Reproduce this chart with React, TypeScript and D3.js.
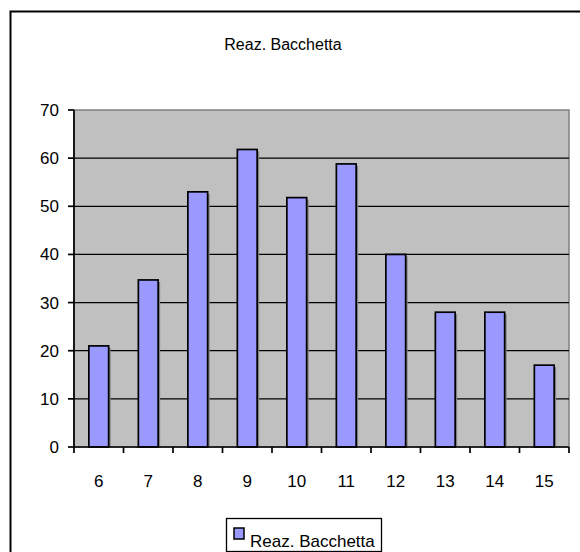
import React from "react";
import * as d3 from "d3";

const categories = ["6", "7", "8", "9", "10", "11", "12", "13", "14", "15"];
const values = [21, 34.7, 53, 61.8, 51.8, 58.8, 40, 28, 28, 17];
const yTicks = [0, 10, 20, 30, 40, 50, 60, 70];
const title = "Reaz. Bacchetta";
const seriesName = "Reaz. Bacchetta";

export default function App() {
  const W = 580, H = 552;
  const x0 = 74, x1 = 569, y0 = 110, y1 = 447;
  const x = d3.scaleBand<string>().domain(categories).range([x0, x1]).paddingInner(0.6).paddingOuter(0.3);
  const y = d3.scaleLinear().domain([0, 70]).range([y1, y0]);
  const step = (x1 - x0) / categories.length;
  const font = "'Liberation Sans', Arial, sans-serif";
  return (
    <svg width={W} height={H} style={{ position: "absolute", left: 0, top: 0 }}>
      <rect x={0} y={0} width={W} height={H} fill="#fff" />
      <rect x={10.5} y={11.5} width={700} height={700} fill="#fff" stroke="#000" strokeWidth={2} />
      <text x={283} y={50} textAnchor="middle" fontFamily={font} fontSize={16}>{title}</text>
      <rect x={x0} y={y0} width={x1 - x0} height={y1 - y0} fill="#c0c0c0" stroke="#808080" strokeWidth={1.5} />
      {yTicks.filter(t => t > 0 && t < 70).map(t => (
        <line key={t} x1={x0} x2={x1} y1={y(t)} y2={y(t)} stroke="#000" strokeWidth={1.3} />
      ))}
      {categories.map((c, i) => (
        <g key={c}>
          <rect x={(x(c) as number) + 2} y={y(values[i]) + 2} width={x.bandwidth()} height={y1 - y(values[i]) - 2} fill="#808080" />
          <rect x={x(c)} y={y(values[i])} width={x.bandwidth()} height={y1 - y(values[i])} fill="#9999ff" stroke="#000" strokeWidth={1.7} />
        </g>
      ))}
      <line x1={x0} x2={x0} y1={y0} y2={y1} stroke="#000" strokeWidth={1.7} />
      <line x1={x0} x2={x1} y1={y1} y2={y1} stroke="#000" strokeWidth={1.7} />
      {yTicks.map(t => (
        <g key={t}>
          <line x1={x0 - 6} x2={x0} y1={y(t)} y2={y(t)} stroke="#000" strokeWidth={1.7} />
          <text x={x0 - 15} y={y(t) + 6} textAnchor="end" fontFamily={font} fontSize={17}>{t}</text>
        </g>
      ))}
      {d3.range(categories.length + 1).map(i => (
        <line key={i} x1={x0 + i * step} x2={x0 + i * step} y1={y1} y2={y1 + 6} stroke="#000" strokeWidth={1.7} />
      ))}
      {categories.map(c => (
        <text key={c} x={(x(c) as number) + x.bandwidth() / 2} y={487} textAnchor="middle" fontFamily={font} fontSize={17}>{c}</text>
      ))}
      <rect x={226.5} y={518.5} width={155} height={33} fill="#fff" stroke="#000" strokeWidth={1.3} />
      <rect x={234} y={528} width={10} height={11} fill="#9999ff" stroke="#000" strokeWidth={1.5} />
      <text x={250} y={547} fontFamily={font} fontSize={17}>{seriesName}</text>
    </svg>
  );
}
